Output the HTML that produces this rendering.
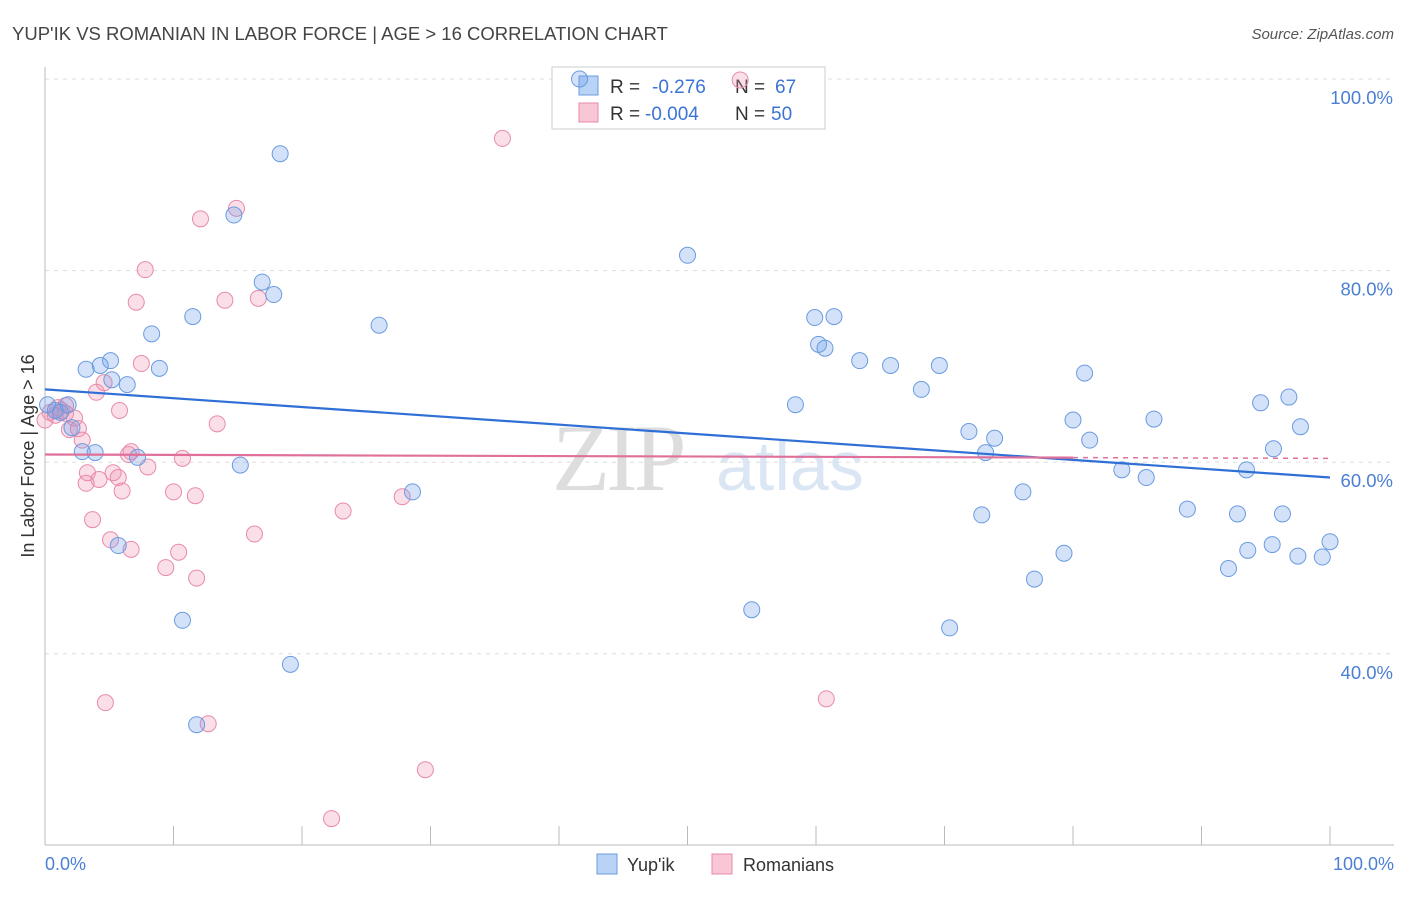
<!DOCTYPE html>
<html><head><meta charset="utf-8"><style>
body{margin:0;background:#fff;font-family:"Liberation Sans",sans-serif}
</style></head><body>
<svg id="c" width="1406" height="892" xmlns="http://www.w3.org/2000/svg" style="font-family:'Liberation Sans',sans-serif">
<text x="12" y="40" font-size="18.5" fill="#444">YUP'IK VS ROMANIAN IN LABOR FORCE | AGE &gt; 16 CORRELATION CHART</text>
<text x="1394" y="39" font-size="15" fill="#555" font-style="italic" text-anchor="end">Source: ZipAtlas.com</text>
<g><text x="552" y="490" font-size="95" fill="#ddd" font-family="Liberation Serif" letter-spacing="-4">ZIP</text><text x="716" y="490" font-size="70" fill="#dbe6f5">atlas</text></g>
<g id="grid"></g>
<g>
<rect x="552" y="67" width="273" height="62" fill="#fff" stroke="#ccc"/>
<rect x="579" y="76" width="19" height="19" fill="#b8d3f5" stroke="#6a9be0"/>
<rect x="579" y="103" width="19" height="19" fill="#f9c6d6" stroke="#e88aaa"/>
<text x="610" y="93" font-size="19" fill="#333">R =</text><text x="652" y="93" font-size="19" fill="#3b74d4">-0.276</text><text x="735" y="93" font-size="19" fill="#333">N =</text><text x="775" y="93" font-size="19" fill="#3b74d4">67</text>
<text x="610" y="120" font-size="19" fill="#333">R =</text><text x="645" y="120" font-size="19" fill="#3b74d4">-0.004</text><text x="735" y="120" font-size="19" fill="#333">N =</text><text x="771" y="120" font-size="19" fill="#3b74d4">50</text>
</g>
<g id="pts"></g><g id="lines"></g>
<text transform="translate(34,456) rotate(-90)" font-size="18" fill="#333" text-anchor="middle">In Labor Force | Age &gt; 16</text>
<text x="45" y="870" font-size="18" fill="#4a7fd4">0.0%</text>
<text x="1394" y="870" font-size="18" fill="#4a7fd4" text-anchor="end">100.0%</text>
<g>
<rect x="597" y="854" width="20" height="20" fill="#b8d3f5" stroke="#6a9be0"/>
<text x="627" y="871" font-size="18" fill="#333">Yup'ik</text>
<rect x="712" y="854" width="20" height="20" fill="#f9c6d6" stroke="#e88aaa"/>
<text x="743" y="871" font-size="18" fill="#333">Romanians</text>
</g>
</svg>
<script>
const yTicks=[100,80,60,40];
const yTickLabels=["100.0%","80.0%","60.0%","40.0%"];
const xTicks=[0,10,20,30,40,50,60,70,80,90,100];
const blueX=[41.6,18.3,14.7,50.0,16.9,17.8,11.5,26.0,8.3,59.9,61.4,60.2,60.7,63.4,65.8,69.6,5.1,3.2,4.3,8.9,5.2,6.4,68.2,80.9,58.4,96.8,94.6,86.3,80.0,97.7,71.9,73.9,81.3,95.6,73.2,83.8,85.7,93.5,2.9,3.9,7.2,15.2,28.6,76.1,88.9,72.9,92.8,96.3,5.7,100,79.3,93.6,95.5,97.5,99.4,92.1,77.0,10.7,55.0,70.4,19.1,11.8,0.2,0.8,1.2,1.8,2.1];
const blueY=[100,92.2,85.8,81.6,78.8,77.5,75.2,74.3,73.4,75.1,75.2,72.3,71.9,70.6,70.1,70.1,70.6,69.7,70.1,69.8,68.6,68.1,67.6,69.3,66.0,66.8,66.2,64.5,64.4,63.7,63.2,62.5,62.3,61.4,61.0,59.2,58.4,59.2,61.1,61.0,60.5,59.7,56.9,56.9,55.1,54.5,54.6,54.6,51.3,51.7,50.5,50.8,51.4,50.2,50.1,48.9,47.8,43.5,44.6,42.7,38.9,32.6,66.0,65.4,65.2,66.0,63.6];
const pinkX=[54.1,35.6,14.9,12.1,7.8,7.1,14.0,16.6,7.5,4.6,4.0,5.8,13.4,1.0,1.3,0.4,1.6,2.3,1.9,2.6,2.9,6.7,6.5,10.7,8.0,3.3,4.2,3.2,5.3,5.7,6.0,10.0,11.7,27.8,23.2,3.7,5.1,6.7,16.3,10.4,9.4,11.8,4.7,12.7,60.8,29.6,22.3,0,0.8,1.6];
const pinkY=[99.9,93.8,86.5,85.4,80.1,76.7,76.9,77.1,70.3,68.3,67.3,65.4,64.0,65.7,65.4,65.2,65.9,64.6,63.4,63.5,62.3,61.1,60.8,60.4,59.5,58.9,58.2,57.8,58.9,58.4,57.0,56.9,56.5,56.4,54.9,54.0,51.9,50.9,52.5,50.6,49.0,47.9,34.9,32.7,35.3,27.9,22.8,64.4,64.9,65.1];
const blueFit=[67.6,58.4];
const pinkFit=[60.8,60.4];
const NS="http://www.w3.org/2000/svg";
const sx=v=>45+v*12.85, sy=v=>79+(100-v)*9.58;
function mk(tag,attrs,parent){const e=document.createElementNS(NS,tag);for(const k in attrs)e.setAttribute(k,attrs[k]);document.getElementById(parent).appendChild(e);return e;}
yTicks.forEach((t,i)=>{
 const g=mk('line',{x1:45,x2:1394,y1:sy(t),y2:sy(t),stroke:'#ddd','stroke-dasharray':'4,5'},'grid');
 
 
 const l=mk('text',{x:1393,y:sy(t)+25,'font-size':18.5,fill:'#4a7fd4','text-anchor':'end'},'grid');l.textContent=yTickLabels[i];
 
 
});
const ax=mk('line',{x1:45,x2:1394,y1:845,y2:845,stroke:'#bbb'},'grid');


const ay=mk('line',{x1:45,x2:45,y1:67,y2:845,stroke:'#bbb'},'grid');


xTicks.forEach(t=>{const k=mk('line',{x1:sx(t),x2:sx(t),y1:826,y2:845,stroke:'#bbb'},'grid');
 
 });
pinkX.forEach((x,i)=>{const c=mk('circle',{cx:sx(x),cy:sy(pinkY[i]),r:8,fill:'rgba(240,150,180,0.3)',stroke:'#e88aaa','stroke-width':1},'pts');
 
 });
blueX.forEach((x,i)=>{const c=mk('circle',{cx:sx(x),cy:sy(blueY[i]),r:8,fill:'rgba(110,160,235,0.3)',stroke:'#6a9be0','stroke-width':1},'pts');
 
 });
const bl=mk('line',{x1:sx(0),y1:sy(blueFit[0]),x2:sx(100),y2:sy(blueFit[1]),stroke:'#2f6fd6','stroke-width':2.2},'lines');


const pm=pinkFit[0]+(pinkFit[1]-pinkFit[0])*0.8;
const pl=mk('line',{x1:sx(0),y1:sy(pinkFit[0]),x2:sx(80),y2:sy(pm),stroke:'#e0709a','stroke-width':2.2},'lines');


const pd=mk('line',{x1:sx(80),y1:sy(pm),x2:sx(100),y2:sy(pinkFit[1]),stroke:'#e0709a','stroke-width':1.5,'stroke-dasharray':'5,5'},'lines');


</script>
</body></html>
